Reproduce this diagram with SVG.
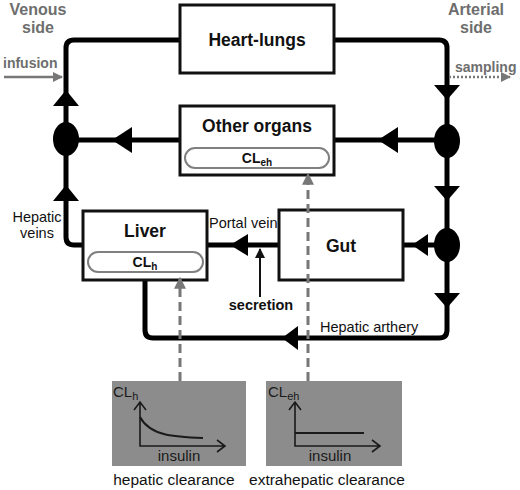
<svg xmlns="http://www.w3.org/2000/svg" width="520" height="490" viewBox="0 0 520 490">
<defs>
<style>
.box{fill:#fff;stroke:#111;stroke-width:3}
.pill{fill:#fff;stroke:#808080;stroke-width:2}
.flow{fill:none;stroke:#000;stroke-width:5;stroke-linejoin:round}
.head{fill:#000}
.node{fill:#000}
.dash{fill:none;stroke:#777;stroke-width:3;stroke-dasharray:9 5}
.t{font-family:"Liberation Sans",Arial,sans-serif}
.title{font-size:17.5px;font-weight:bold;fill:#111;text-anchor:middle}
.side{font-size:16px;font-weight:bold;fill:#6e6e6e;text-anchor:middle}
.lbl{font-size:14.5px;fill:#111}
.plot{fill:#8c8c8c}
.ax{fill:none;stroke:#1a1a1a;stroke-width:1.6}
.pt{font-size:15px;fill:#1a1a1a}
</style>
<marker id="gh" viewBox="0 0 10 10" refX="9" refY="5" markerWidth="4" markerHeight="4" orient="auto"><path d="M0,0L10,5L0,10z" fill="#777"/></marker>
<marker id="bh" viewBox="0 0 10 10" refX="9" refY="5" markerWidth="5" markerHeight="5" orient="auto"><path d="M0,0L10,5L0,10z" fill="#111"/></marker>
</defs>
<rect width="520" height="490" fill="#fff"/>

<text class="t side" x="38" y="15">Venous</text>
<text class="t side" x="38" y="33">side</text>
<text class="t side" x="476" y="15">Arterial</text>
<text class="t side" x="476" y="33">side</text>

<g id="connectors">
<path class="flow" d="M180,40 H74 Q66,40 66,48 V237 Q66,245 74,245 H83"/>
<path class="flow" d="M334,40 H439 Q447,40 447,48 V330 Q447,338 439,338 H153 Q145,338 145,330 V280"/>
<path class="flow" d="M66,140 H180"/>
<path class="flow" d="M447,140 H334"/>
<path class="flow" d="M447,245 H403"/>
<path class="flow" d="M279,245 H207"/>
<polygon class="head" points="66,90 53,106 79,106"/>
<polygon class="head" points="66,185 53,201 79,201"/>
<polygon class="head" points="434,85 460,85 447,100"/>
<polygon class="head" points="434,186 460,186 447,201"/>
<polygon class="head" points="434,293 460,293 447,308"/>
<polygon class="head" points="112,140 132,127 132,153"/>
<polygon class="head" points="378,140 398,127 398,153"/>
<polygon class="head" points="412,245 428,234 428,256"/>
<polygon class="head" points="230,245 248,234 248,256"/>
<polygon class="head" points="282,338 298,326 298,350"/>
<line x1="260" y1="297" x2="260" y2="249" stroke="#111" stroke-width="2" marker-end="url(#bh)"/>
<line x1="4" y1="77" x2="62" y2="77" stroke="#777" stroke-width="2.5" marker-end="url(#gh)"/>
<line x1="449" y1="77" x2="510" y2="77" stroke="#777" stroke-width="2.5" stroke-dasharray="2 2" marker-end="url(#gh)"/>
</g>

<text class="t" x="3" y="68" font-size="14" font-weight="bold" fill="#6e6e6e">infusion</text>
<text class="t" x="455" y="72" font-size="14" font-weight="bold" fill="#6e6e6e">sampling</text>

<g id="venous-junction"><ellipse class="node" cx="66" cy="139" rx="13" ry="17"/></g>
<g id="arterial-junction-1"><ellipse class="node" cx="447" cy="141" rx="13" ry="17"/></g>
<g id="arterial-junction-2"><ellipse class="node" cx="447" cy="245" rx="13" ry="17"/></g>

<g id="heart-lungs">
<rect class="box" x="180" y="5" width="154" height="68"/>
<text class="t title" x="257" y="46">Heart-lungs</text>
</g>

<g id="other-organs">
<rect class="box" x="180" y="106" width="154" height="69"/>
<text class="t title" x="257" y="132">Other organs</text>
<rect class="pill" x="185" y="148" width="144" height="20" rx="10"/>
<text class="t" x="257" y="163" font-size="14" font-weight="bold" fill="#111" text-anchor="middle">CL<tspan font-size="10" dy="3">eh</tspan></text>
</g>

<g id="liver">
<rect class="box" x="83" y="211" width="124" height="69"/>
<text class="t title" x="145" y="237">Liver</text>
<rect class="pill" x="88" y="252" width="115" height="20" rx="10"/>
<text class="t" x="145" y="267" font-size="14" font-weight="bold" fill="#111" text-anchor="middle">CL<tspan font-size="10" dy="3">h</tspan></text>
</g>

<g id="gut">
<rect class="box" x="279" y="210" width="124" height="70"/>
<text class="t title" x="341" y="252">Gut</text>
</g>

<text class="t lbl" x="37" y="222" text-anchor="middle">Hepatic</text>
<text class="t lbl" x="37" y="238" text-anchor="middle">veins</text>
<text class="t lbl" x="209" y="228">Portal vein</text>
<text class="t lbl" x="261" y="310" font-weight="bold" text-anchor="middle">secretion</text>
<text class="t lbl" x="320" y="332">Hepatic arthery</text>

<g id="hepatic-plot">
<rect class="plot" x="112" y="381" width="134" height="85"/>
<text class="t pt" x="113" y="397">CL<tspan font-size="11" dy="3">h</tspan></text>
<path class="ax" d="M140,402 V446 H225 M134,410 L140,402 L146,410 M217,440 L225,446 L217,452"/>
<path d="M140,417 C150,436 175,437 203,438" fill="none" stroke="#1a1a1a" stroke-width="2"/>
<text class="t pt" x="179" y="461" text-anchor="middle">insulin</text>
</g>

<g id="extrahepatic-plot">
<rect class="plot" x="266" y="381" width="136" height="85"/>
<text class="t pt" x="268" y="397">CL<tspan font-size="11" dy="3">eh</tspan></text>
<path class="ax" d="M295,402 V446 H380 M289,410 L295,402 L301,410 M372,440 L380,446 L372,452"/>
<line x1="295" y1="433" x2="364" y2="433" stroke="#1a1a1a" stroke-width="2"/>
<text class="t pt" x="330" y="461" text-anchor="middle">insulin</text>
</g>

<g id="clearance-links">
<line class="dash" x1="180" y1="381" x2="180" y2="278" marker-end="url(#gh)"/>
<line class="dash" x1="308" y1="381" x2="308" y2="174" marker-end="url(#gh)"/>
</g>

<text class="t" x="174" y="485" font-size="15.5" fill="#111" text-anchor="middle">hepatic clearance</text>
<text class="t" x="327" y="485" font-size="15.5" fill="#111" text-anchor="middle">extrahepatic clearance</text>
</svg>
